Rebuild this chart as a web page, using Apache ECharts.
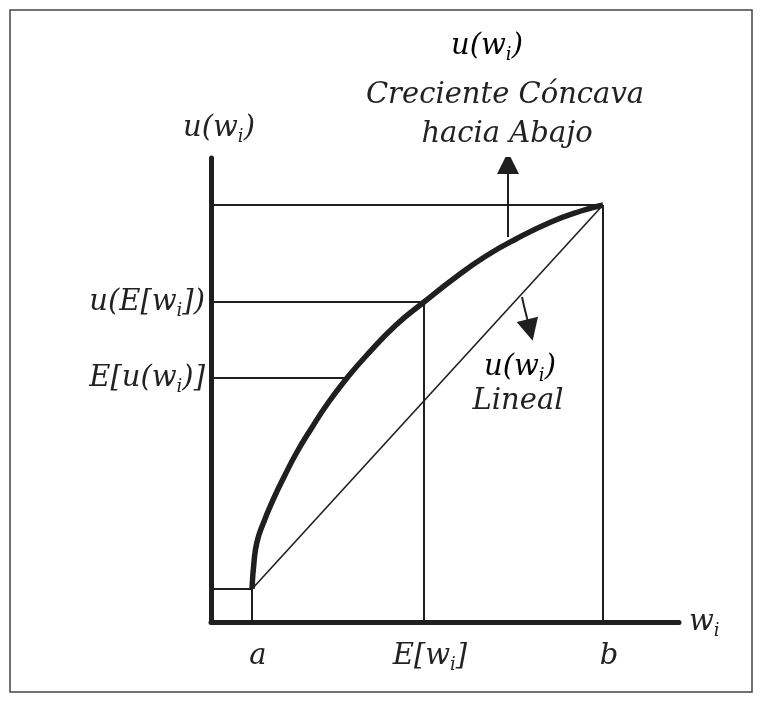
<!DOCTYPE html>
<html><head><meta charset="utf-8">
<script src="https://cdn.jsdelivr.net/npm/echarts@6/dist/echarts.min.js"></script>
<style>html,body{margin:0;padding:0;background:#fff}#c{width:762px;height:704px}</style>
</head><body><div id="c"></div>
<script>
// ---- data (units: abstract wealth w and utility u) ----
const xMax = 468, yMax = 464;
const wA = 41, wE = 213, wB = 392;
const uA = 33, uB = 417, uOfE = 320, eOfU = 244, wCE = 136;
const curveW = [41, 43, 46, 52, 62, 74, 86, 100, 117, 136, 155, 185, 213, 245, 275, 305, 340, 370, 392];
const curveU = [33, 60, 80, 98, 122, 147, 170, 193, 219, 244, 266, 297, 320, 345, 366, 383, 400, 411, 417];
const xTickVals = [wA, wE, wB];
const xTickLabels = ['{t|a}', '{t|E[w}{s|i}{t|]}', '{t|b}'];
const yTickVals = [eOfU, uOfE];
const yTickLabels = ['{t|E[u(w}{s|i}{t|)]}', '{t|u(E[w}{s|i}{t|])}'];
const upArrow = [[297, 385], [297, 459]];
const downArrowStem = [[311, 325], [313, 316], [316, 304]];
const downArrowHead = [[316, 304], [319, 292]];

const INK = '#1f1f1f';
const TXT = '#222';
const FONT = 'DejaVu Serif';
const FS = 29;
const rich = {
  t: {fontFamily: FONT, fontStyle: 'italic', fontSize: FS, color: TXT, lineHeight: 36},
  s: {fontFamily: FONT, fontStyle: 'italic', fontSize: 18, color: TXT, verticalAlign: 'bottom', lineHeight: 20}
};

function seg(pts, width) {
  return {
    type: 'line', data: pts, symbol: 'none', silent: true, clip: false,
    lineStyle: {color: INK, width: width || 2}
  };
}

const curveData = curveW.map((w, i) => [w, curveU[i]]);

const chart = echarts.init(document.getElementById('c'), null, {renderer: 'canvas'});
chart.setOption({
  animation: false,
  backgroundColor: '#fff',
  grid: {left: 211, top: 158, width: xMax, height: yMax, containLabel: false},
  xAxis: {
    type: 'value', min: 0, max: xMax,
    axisLine: {show: true, lineStyle: {color: INK, width: 5}},
    axisTick: {show: false}, splitLine: {show: false},
    axisLabel: {
      customValues: xTickVals, margin: 16, rich: rich, padding: [0, 0, 0, 12],
      formatter: (v) => xTickLabels[xTickVals.indexOf(v)] || ''
    },
    name: '{t|w}{s|i}', nameLocation: 'end', nameGap: 10,
    nameTextStyle: {rich: rich, verticalAlign: 'middle'}
  },
  yAxis: {
    type: 'value', min: 0, max: yMax,
    axisLine: {show: true, lineStyle: {color: INK, width: 5}},
    axisTick: {show: false}, splitLine: {show: false},
    axisLabel: {
      customValues: yTickVals, margin: 6, rich: rich,
      formatter: (v) => yTickLabels[yTickVals.indexOf(v)] || ''
    },
    name: '{t|u(w}{s|i}{t|)}', nameLocation: 'end', nameGap: 12,
    nameTextStyle: {rich: rich, align: 'center', padding: [0, 0, 0, 16]}
  },
  series: [
    seg([[0, uB], [wB, uB]]),
    seg([[wB, 0], [wB, uB]]),
    seg([[0, uOfE], [wE, uOfE]]),
    seg([[wE, 0], [wE, uOfE]]),
    seg([[0, eOfU], [wCE, eOfU]]),
    seg([[0, uA], [wA, uA]]),
    seg([[wA, 0], [wA, uA]]),
    seg([[wA, uA], [wB, uB]], 1.6),
    {
      type: 'line', data: curveData, symbol: 'none', silent: true, smooth: 0.5,
      lineStyle: {color: INK, width: 5.5}
    },
    {
      type: 'lines', coordinateSystem: 'cartesian2d', polyline: true, silent: true,
      lineStyle: {color: INK, width: 2, opacity: 1},
      data: [{coords: downArrowStem}]
    },
    {
      type: 'lines', coordinateSystem: 'cartesian2d', silent: true,
      symbol: ['none', 'triangle'], symbolSize: [15, 22],
      lineStyle: {color: INK, width: 2, opacity: 1},
      data: [{coords: upArrow}, {coords: downArrowHead}]
    }
  ],
  graphic: [
    {type: 'rect', shape: {x: 10, y: 10, width: 742, height: 682}, style: {fill: 'none', stroke: '#444', lineWidth: 1.5}, silent: true},
    {type: 'text', x: 487, y: 46, style: {text: '{t|u(w}{s|i}{t|)}', rich: rich, align: 'center', verticalAlign: 'middle'}},
    {type: 'text', x: 505, y: 95, style: {text: 'Creciente Cóncava', font: 'italic ' + FS + 'px "' + FONT + '"', fill: TXT, align: 'center', verticalAlign: 'middle'}},
    {type: 'text', x: 507, y: 134, style: {text: 'hacia Abajo', font: 'italic ' + FS + 'px "' + FONT + '"', fill: TXT, align: 'center', verticalAlign: 'middle'}},
    {type: 'text', x: 520, y: 367, style: {text: '{t|u(w}{s|i}{t|)}', rich: rich, align: 'center', verticalAlign: 'middle'}},
    {type: 'text', x: 518, y: 401, style: {text: 'Lineal', font: 'italic ' + FS + 'px "' + FONT + '"', fill: TXT, align: 'center', verticalAlign: 'middle'}}
  ]
});
</script>
</body></html>
